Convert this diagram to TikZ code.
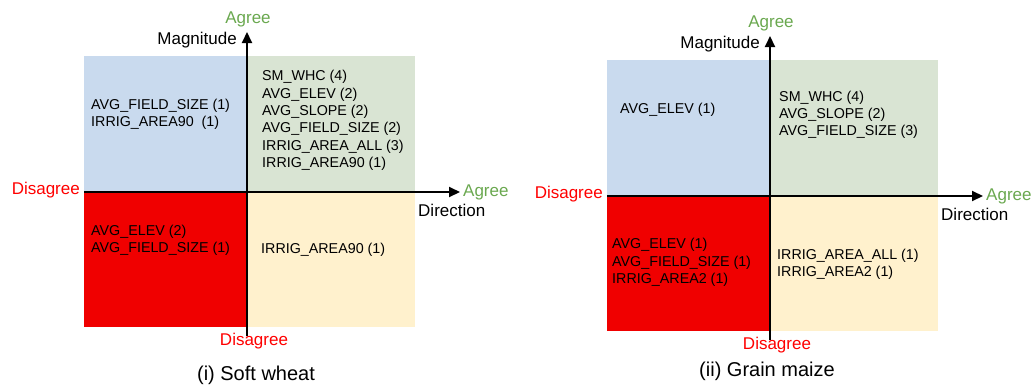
\documentclass[tikz,border=0pt]{standalone}
\usepackage{fontspec}
\setmainfont{Liberation Sans}
\usetikzlibrary{arrows.meta, positioning}
\definecolor{qBlue}{RGB}{201,218,238}
\definecolor{qGreen}{RGB}{217,228,211}
\definecolor{qRed}{RGB}{240,0,0}
\definecolor{qYellow}{RGB}{255,241,205}
\definecolor{cAgree}{RGB}{106,168,79}
\definecolor{cDisagree}{RGB}{255,0,0}
\tikzset{
	axis/.style       ={line width=2pt, -{Triangle[length=11pt, width=10pt]}},
	axlabel/.style    ={font=\fontsize{17}{20}\selectfont, inner sep=0pt},
	agreelbl/.style   ={axlabel, text=cAgree},
	disagreelbl/.style={axlabel, text=cDisagree},
	varlist/.style    ={font=\fontsize{14.3}{17.4}\selectfont, align=left, anchor=west, inner sep=0pt},
	caption/.style    ={font=\fontsize{20}{24}\selectfont, inner sep=0pt},
}

\begin{document}
\begin{tikzpicture}[x=1pt, y=-1pt]
	\useasboundingbox (0,0) rectangle (1032,386);
	% (i) soft wheat
	\begin{scope}
		\fill[qBlue]   (84,56)   rectangle (247,192);
		\fill[qGreen]  (247,56)  rectangle (415,192);
		\fill[qRed]    (84,192)  rectangle (247,327);
		\fill[qYellow] (247,192) rectangle (415,327);
		\coordinate (wL) at (84,192);
		\coordinate (wR) at (460,192);
		\coordinate (wB) at (247,336);
		\coordinate (wT) at (247,32);
		\draw[axis] (wL) -- (wR);
		\draw[axis] (wB) -- (wT);
		\node[agreelbl] (wAgreeT) at (248,19) {Agree};
		\node[axlabel, anchor=east] (wMag) at (237,40) {Magnitude};
		\node[disagreelbl, anchor=east] (wDisL) at (80,190) {Disagree};
		\node[agreelbl, anchor=west] (wAgreeR) at (463,192) {Agree};
		\node[axlabel, anchor=west] (wDir) at (418,210) {Direction};
		\node[disagreelbl] (wDisB) at (254,341) {Disagree};
		\node[varlist] (wUL) at (91,114.5) {AVG\_FIELD\_SIZE (1)\\IRRIG\_AREA90\ \ (1)};
		\node[varlist] (wUR) at (262,120.5) {SM\_WHC (4)\\AVG\_ELEV (2)\\AVG\_SLOPE (2)\\AVG\_FIELD\_SIZE (2)\\IRRIG\_AREA\_ALL (3)\\IRRIG\_AREA90 (1)};
		\node[varlist] (wLL) at (91,240.5) {AVG\_ELEV (2)\\AVG\_FIELD\_SIZE (1)};
		\node[varlist] (wLR) at (261,250) {IRRIG\_AREA90 (1)};
		\node[caption] (wCap) at (256,375) {(i) Soft wheat};
	\end{scope}
	% (ii) grain maize
	\begin{scope}[xshift=523pt, yshift=-4pt]
		\fill[qBlue]   (84,56)   rectangle (247,192);
		\fill[qGreen]  (247,56)  rectangle (415,192);
		\fill[qRed]    (84,192)  rectangle (247,327);
		\fill[qYellow] (247,192) rectangle (415,327);
		\coordinate (mL) at (84,192);
		\coordinate (mR) at (460,192);
		\coordinate (mB) at (247,336);
		\coordinate (mT) at (247,32);
		\draw[axis] (mL) -- (mR);
		\draw[axis] (mB) -- (mT);
		\node[agreelbl] (mAgreeT) at (248,19) {Agree};
		\node[axlabel, anchor=east] (mMag) at (237,40) {Magnitude};
		\node[disagreelbl, anchor=east] (mDisL) at (80,190) {Disagree};
		\node[agreelbl, anchor=west] (mAgreeR) at (463,192) {Agree};
		\node[axlabel, anchor=west] (mDir) at (418,210) {Direction};
		\node[disagreelbl] (mDisB) at (254,341) {Disagree};
		\node[varlist] (mUL) at (97,106) {AVG\_ELEV (1)};
		\node[varlist] (mUR) at (256,110.7) {SM\_WHC (4)\\AVG\_SLOPE (2)\\AVG\_FIELD\_SIZE (3)};
		\node[varlist] (mLL) at (89,258.3) {AVG\_ELEV (1)\\AVG\_FIELD\_SIZE (1)\\IRRIG\_AREA2 (1)};
		\node[varlist] (mLR) at (254,260) {IRRIG\_AREA\_ALL (1)\\IRRIG\_AREA2 (1)};
		\node[caption] (mCap) at (244,367) {(ii) Grain maize};
	\end{scope}
\end{tikzpicture}
\end{document}
